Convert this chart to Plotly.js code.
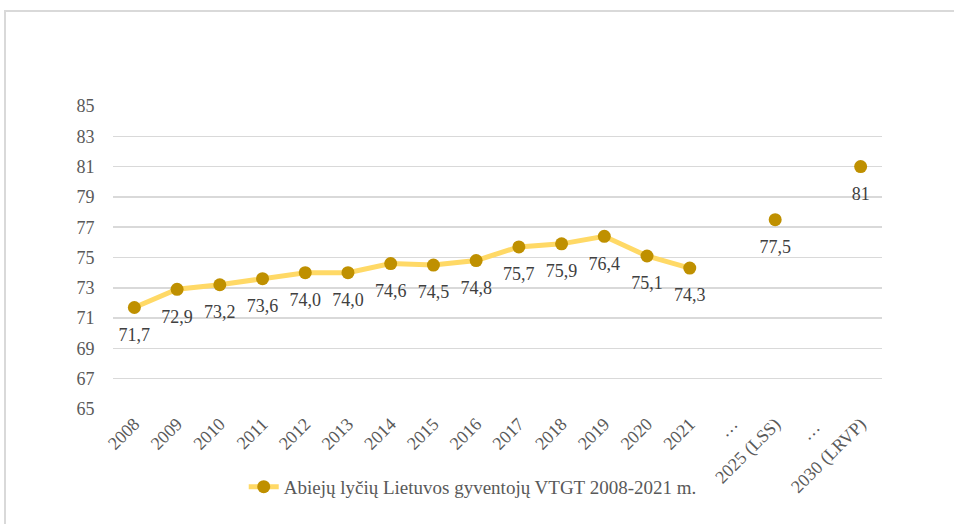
<!DOCTYPE html>
<html>
<head>
<meta charset="utf-8">
<script src="https://cdn.plot.ly/plotly-3.0.1.min.js"></script>
<style>
html,body{margin:0;padding:0;background:#fff;}
#wrap{position:relative;width:954px;height:524px;}
#chart{width:954px;height:524px;}
#frame{position:absolute;left:4px;top:10px;width:960px;height:530px;border-top:2px solid #d9d9d9;border-left:2px solid #d9d9d9;pointer-events:none;}
</style>
</head>
<body>
<div id="wrap"><div id="chart"></div><div id="frame"></div></div>
<script>
const categories = ['2008','2009','2010','2011','2012','2013','2014','2015','2016','2017','2018','2019','2020','2021','…','2025 (LSS)','… ','2030 (LRVP)'];
const values = [71.7,72.9,73.2,73.6,74.0,74.0,74.6,74.5,74.8,75.7,75.9,76.4,75.1,74.3,null,77.5,null,81];
const seriesName = 'Abiejų lyčių Lietuvos gyventojų VTGT 2008-2021 m.';
const yTicks = [65,67,69,71,73,75,77,79,81,83,85];

const labels = values.map((v,i) => v === null ? '' : (Number.isInteger(v) && i > 13 ? String(v) : v.toFixed(1)).replace('.', ','));

const font = 'Liberation Serif, Times New Roman, serif';
const lineTrace = {
  x: categories,
  y: values,
  type: 'scatter',
  mode: 'lines+markers',
  name: seriesName,
  line: {color: '#FFD966', width: 5},
  marker: {color: '#BF9000', size: 13},
  connectgaps: false,
  cliponaxis: false
};
const labelTrace = {
  x: categories,
  y: values,
  type: 'scatter',
  mode: 'markers+text',
  showlegend: false,
  text: labels,
  textposition: 'bottom center',
  textfont: {family: font, size: 18, color: '#404040'},
  marker: {color: 'rgba(0,0,0,0)', size: 30},
  cliponaxis: false
};
const layout = {
  width: 954, height: 524,
  margin: {l: 113, r: 72, t: 106, b: 115},
  paper_bgcolor: '#fff', plot_bgcolor: '#fff',
  font: {family: font, size: 18, color: '#595959'},
  showlegend: true,
  legend: {orientation: 'h', x: 0.17, xanchor: 'left', y: -0.257, yanchor: 'middle',
           font: {family: font, size: 19, color: '#595959'}, bgcolor: 'rgba(0,0,0,0)'},
  xaxis: {type: 'category', categoryorder: 'array', categoryarray: categories, range: [-0.5, 17.5],
          autorange: false, tickangle: -45, showgrid: false, showline: false, zeroline: false,
          ticks: '', tickfont: {family: font, size: 18, color: '#595959'}},
  yaxis: {range: [65, 85], autorange: false, tickvals: yTicks, showgrid: true, gridcolor: '#d9d9d9', gridwidth: 1.5,
          zeroline: false, showline: false, ticks: 'outside', ticklen: 14, tickcolor: 'rgba(0,0,0,0)',
          tickfont: {family: font, size: 18, color: '#595959'}}
};
Plotly.newPlot('chart', [lineTrace, labelTrace], layout, {displayModeBar: false, staticPlot: true});
</script>
</body>
</html>
